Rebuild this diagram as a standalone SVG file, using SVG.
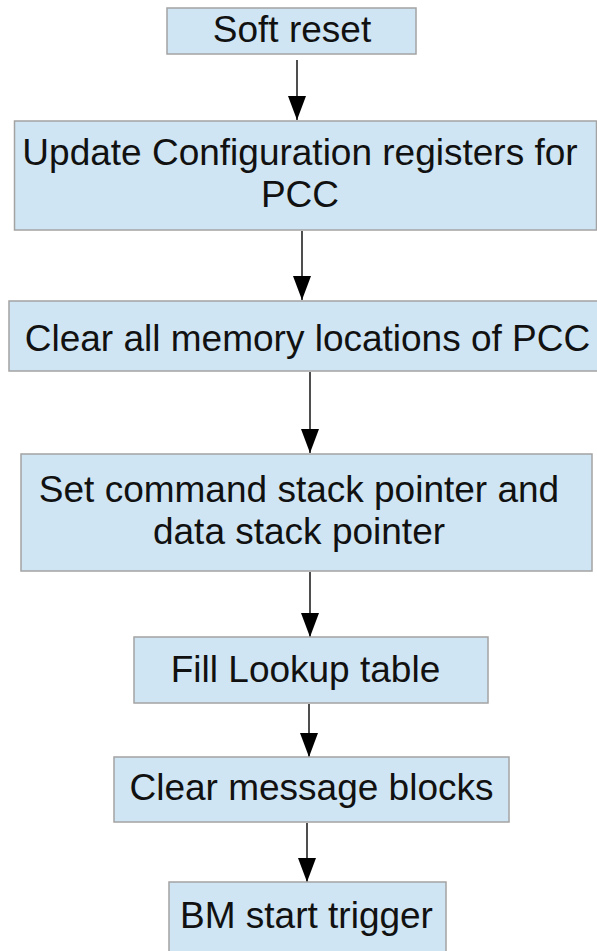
<svg xmlns="http://www.w3.org/2000/svg" width="597" height="951" viewBox="0 0 597 951">
  <style>
    .box { fill: #cfe5f3; stroke: #a3a3a3; stroke-width: 1.5; }
    .lbl { font-family: "Liberation Sans", Arial, sans-serif; font-size: 37px; fill: #111; text-anchor: middle; }
    .edge { stroke: #222; stroke-width: 1.6; fill: none; marker-end: url(#arrow); }
  </style>
  <defs>
    <!-- filled triangular arrowhead, tip at the end of the line -->
    <marker id="arrow" markerUnits="userSpaceOnUse" viewBox="0 0 24 18" markerWidth="24" markerHeight="18" refX="24" refY="9" orient="auto">
      <path d="M0,0 L24,9 L0,18 Z" fill="#000"/>
    </marker>
  </defs>
  <rect width="597" height="951" fill="#fff"/>

  <g id="connectors">
    <line class="edge" x1="297" y1="60" x2="297" y2="120"/>
    <line class="edge" x1="302" y1="231" x2="302" y2="300"/>
    <line class="edge" x1="310" y1="372" x2="310" y2="453"/>
    <line class="edge" x1="310" y1="572" x2="310" y2="637"/>
    <line class="edge" x1="309" y1="704" x2="309" y2="757"/>
    <line class="edge" x1="307" y1="823" x2="307" y2="882"/>
  </g>

  <g id="soft-reset">
    <rect class="box" x="167" y="8" width="249" height="46"/>
    <text class="lbl" x="292" y="42">Soft reset</text>
  </g>
  <g id="update-config">
    <rect class="box" x="14.5" y="121" width="582" height="109"/>
    <text class="lbl" x="300" y="165">Update Configuration registers for</text>
    <text class="lbl" x="300" y="207">PCC</text>
  </g>
  <g id="clear-memory">
    <rect class="box" x="9" y="301" width="600" height="70"/>
    <text class="lbl" x="307.5" y="351">Clear all memory locations of PCC</text>
  </g>
  <g id="set-stack-pointers">
    <rect class="box" x="21" y="454" width="571" height="117"/>
    <text class="lbl" x="299" y="502">Set command stack pointer and</text>
    <text class="lbl" x="299" y="544">data stack pointer</text>
  </g>
  <g id="fill-lookup">
    <rect class="box" x="134" y="637" width="354" height="66"/>
    <text class="lbl" x="305.5" y="682">Fill Lookup table</text>
  </g>
  <g id="clear-messages">
    <rect class="box" x="114" y="757" width="395" height="65"/>
    <text class="lbl" x="311.5" y="800">Clear message blocks</text>
  </g>
  <g id="bm-start">
    <rect class="box" x="169" y="882" width="277" height="80"/>
    <text class="lbl" x="306.5" y="928">BM start trigger</text>
  </g>
</svg>
